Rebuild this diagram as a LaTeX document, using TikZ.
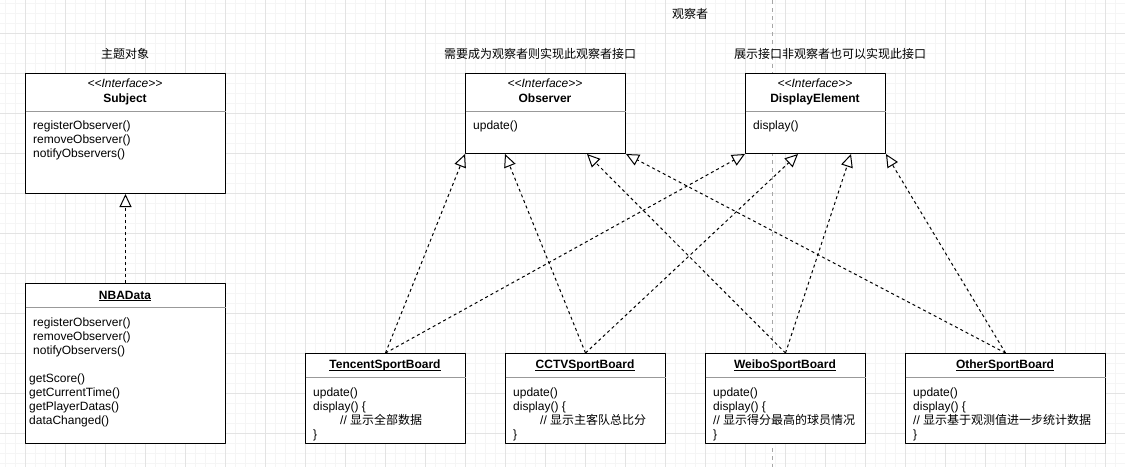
\documentclass[tikz,border=0pt]{standalone}
\usepackage{fontspec}
\setmainfont{Liberation Sans}
\newfontfamily\cjk{Noto Sans CJK SC}
\usetikzlibrary{arrows.meta,positioning}
\tikzset{
  umlbox/.style={draw, fill=white, line width=1pt, inner sep=0pt, anchor=north west},
  minorgrid/.style={draw=black!4, line width=0.6pt},
  majorgrid/.style={draw=black!11, line width=1pt},
  guide/.style={draw=black!35, line width=1pt, dash pattern=on 4pt off 4pt},
  sepline/.style={draw=black!40, line width=1pt},
  member/.style={anchor=base west, inner sep=0pt},
  caption/.style={anchor=base, inner sep=0pt},
  realize/.style={line width=1pt, dash pattern=on 3pt off 3pt,
    -{Triangle[open, length=13pt, width=12pt, fill=white]}}
}
\begin{document}
\begin{tikzpicture}[x=1pt, y=-1pt, line join=round, font=\fontsize{12}{14}\selectfont]
  \def\W{1125} \def\H{467}
  \fill[white] (0,0) rectangle (\W,\H);
  \useasboundingbox (0,0) rectangle (\W,\H);
  % grid
  \foreach \x in {5,15,...,1125} \draw[minorgrid] (\x,0) -- (\x,\H);
  \foreach \y in {3,13,...,467} \draw[minorgrid] (0,\y) -- (\W,\y);
  \foreach \x in {25,65,...,1125} \draw[majorgrid] (\x,0) -- (\x,\H);
  \foreach \y in {33,73,...,467} \draw[majorgrid] (0,\y) -- (\W,\y);
  \draw[guide] (772,0) -- (772,\H);
  % captions
  \node[caption] (top) at (690,18) {\cjk 观察者};
  \node[caption] (subjcap) at (125,58) {\cjk 主题对象};
  \node[caption] (obscap) at (540,58) {\cjk 需要成为观察者则实现此观察者接口};
  \node[caption] (dispcap) at (830,58) {\cjk 展示接口非观察者也可以实现此接口};
  % boxes
  \node[umlbox, minimum width=200pt, minimum height=120pt] (subject) at (25,73) {};
  \node[umlbox, minimum width=200pt, minimum height=160pt] (nbadata) at (25,283) {};
  \node[umlbox, minimum width=160pt, minimum height=80pt] (observer) at (465,73) {};
  \node[umlbox, minimum width=140pt, minimum height=80pt] (display) at (745,73) {};
  \node[umlbox, minimum width=160pt, minimum height=90pt] (tencent) at (305,353) {};
  \node[umlbox, minimum width=160pt, minimum height=90pt] (cctv) at (505,353) {};
  \node[umlbox, minimum width=160pt, minimum height=90pt] (weibo) at (705,353) {};
  \node[umlbox, minimum width=200pt, minimum height=90pt] (other) at (905,353) {};
  \foreach \n/\d in {subject/38, observer/38, display/38, nbadata/24, tencent/24, cctv/24, weibo/24, other/24}
    \draw[sepline] ([xshift=0.5pt, yshift=-\d pt]\n.north west) -- ([xshift=-0.5pt, yshift=-\d pt]\n.north east);
  % interface headers
  \foreach \n/\t/\x in {subject/Subject/125, observer/Observer/545, display/DisplayElement/815} {
    \node[caption] (\n-st) at (\x,87) {\itshape\textless\kern0pt\textless Interface\textgreater\kern0pt\textgreater};
    \node[caption] (\n-nm) at (\x,102) {\bfseries \t};
  }
  % class headers
  \foreach \n/\t/\x/\y in {nbadata/NBAData/125/299, tencent/TencentSportBoard/385/368.5,
      cctv/CCTVSportBoard/585/368.5, weibo/WeiboSportBoard/785/368.5, other/OtherSportBoard/1005/368.5} {
    \node[caption] (\n-nm) at (\x,\y) {\bfseries \t};
    \draw[line width=1pt] ([yshift=-1.5pt]\n-nm.base west) -- ([yshift=-1.5pt]\n-nm.base east);
  }
  % members
  \foreach \t [count=\i] in {registerObserver(), removeObserver(), notifyObservers()} {
    \node[member] (subject-m\i) at (33,125+14*\i-10) {\t};
    \node[member] (nbadata-m\i) at (33,322+14*\i-10) {\t};
  }
  \foreach \t [count=\i] in {getScore(), getCurrentTime(), getPlayerDatas(), dataChanged()}
    \node[member] (nbadata-g\i) at (29,378+14*\i-10) {\t};
  \node[member] (observer-m1) at (473,129) {update()};
  \node[member] (display-m1) at (753,129) {display()};
  \foreach \n/\x/\c/\txt in {tencent/313/340/显示全部数据, cctv/513/540/显示主客队总比分,
      weibo/713/713/显示得分最高的球员情况, other/913/913/显示基于观测值进一步统计数据} {
    \node[member] (\n-m1) at (\x,396) {update()};
    \node[member] (\n-m2) at (\x,410) {display() \{};
    \node[member] (\n-m3) at (\c,424) {// {\cjk \txt}};
    \node[member] (\n-m4) at (\x,438) {\}};
  }
  % realizations
  \draw[realize] (nbadata.north) -- (subject.south);
  \draw[realize] (tencent.north) -- (observer.south west);
  \draw[realize] (cctv.north) -- ([xshift=40pt]observer.south west);
  \draw[realize] (weibo.north) -- ([xshift=-39pt]observer.south east);
  \draw[realize] (other.north) -- (observer.south east);
  \draw[realize] (tencent.north) -- (display.south west);
  \draw[realize] (cctv.north) -- ([xshift=53pt]display.south west);
  \draw[realize] (weibo.north) -- ([xshift=-35pt]display.south east);
  \draw[realize] (other.north) -- (display.south east);
\end{tikzpicture}
\end{document}
